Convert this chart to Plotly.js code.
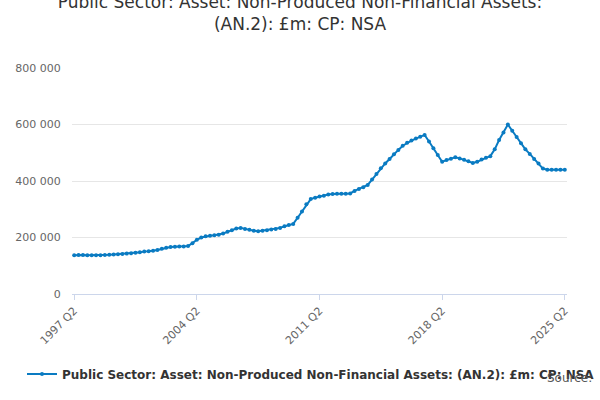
<!DOCTYPE html>
<html>
<head>
<meta charset="utf-8">
<script src="https://cdn.plot.ly/plotly-3.0.1.min.js"></script>
<style>body{margin:0;background:#fff}#chart{width:600px;height:400px}</style>
</head>
<body>
<div id="chart"></div>
<script>
// quarterly values, £m, 1997 Q2 .. 2025 Q2
const values = [
	137000, 138000, 138000, 137000, 137000, 137000, 137000, 138000, 139000, 140000,
	141000, 142000, 143000, 144000, 146000, 148000, 150000, 151000, 153000, 156000,
	160000, 164000, 166000, 167000, 168000, 168000, 170000, 180000, 192000, 200000,
	204000, 206000, 208000, 210000, 214000, 220000, 226000, 232000, 234000, 230000,
	227000, 224000, 222000, 224000, 226000, 228000, 230000, 234000, 240000, 244000,
	248000, 270000, 292000, 318000, 336000, 341000, 345000, 348000, 352000, 354000,
	355000, 355000, 355000, 356000, 365000, 372000, 378000, 386000, 405000, 425000,
	445000, 462000, 478000, 495000, 510000, 525000, 535000, 543000, 550000, 557000,
	563000, 540000, 516000, 492000, 468000, 474000, 479000, 484000, 480000, 475000,
	470000, 464000, 468000, 476000, 482000, 488000, 512000, 545000, 572000, 600000,
	578000, 556000, 534000, 512000, 496000, 478000, 462000, 444000, 440000, 440000,
	440000, 440000, 440000
];
const startYear = 1997;
const startQuarter = 2;
const tickLabels = ["1997 Q2", "2004 Q2", "2011 Q2", "2018 Q2", "2025 Q2"];
const seriesName = "Public Sector: Asset: Non-Produced Non-Financial Assets: (AN.2): £m: CP: NSA";

const quarters = values.map((v, i) => {
	const q = startQuarter - 1 + i;
	return `${startYear + Math.floor(q / 4)} Q${(q % 4) + 1}`;
});

const trace = {
	x: quarters,
	y: values,
	type: "scatter",
	mode: "lines+markers",
	name: seriesName,
	line: { color: "#0a7bc2", width: 2 },
	marker: { color: "#0a7bc2", size: 4 },
};

const layout = {
	width: 600,
	height: 400,
	margin: { l: 72, r: 33, t: 68, b: 102 },
	paper_bgcolor: "#fff",
	plot_bgcolor: "#fff",
	font: { family: "DejaVu Sans, sans-serif", color: "#333" },
	title: {
		text: "Public Sector: Asset: Non-Produced Non-Financial Assets:<br>(AN.2): £m: CP: NSA",
		font: { size: 17, color: "#333" },
		x: 0.5,
		y: 0.98,
		yanchor: "top",
	},
	xaxis: {
		type: "category",
		automargin: false,
		tickvals: tickLabels,
		ticktext: tickLabels,
		tickangle: -45,
		tickfont: { size: 11, color: "#666" },
		showgrid: false,
		showline: true,
		linecolor: "#ccd6eb",
		ticks: "outside",
		tickcolor: "#ccd6eb",
		range: [-0.5, values.length - 0.5],
	},
	yaxis: {
		automargin: false,
		range: [0, 800000],
		tickvals: [0, 200000, 400000, 600000, 800000],
		ticktext: ["0", "200 000", "400 000", "600 000", "800 000"],
		tickfont: { size: 11, color: "#666" },
		gridcolor: "#e6e6e6",
		zeroline: false,
		ticklen: 8,
		tickcolor: "#fff",
		ticks: "outside",
	},
	showlegend: true,
	legend: {
		orientation: "h",
		x: 0.5,
		xanchor: "center",
		y: -0.29,
		yanchor: "top",
		font: { size: 12, color: "#333", weight: "bold" },
	},
	annotations: [
		{
			text: "Source:",
			xref: "paper",
			yref: "paper",
			x: 1.055,
			y: -0.33,
			xanchor: "right",
			yanchor: "top",
			showarrow: false,
			font: { size: 12, color: "#555" },
		},
	],
};

Plotly.newPlot("chart", [trace], layout, { displayModeBar: false, staticPlot: true });
</script>
</body>
</html>
